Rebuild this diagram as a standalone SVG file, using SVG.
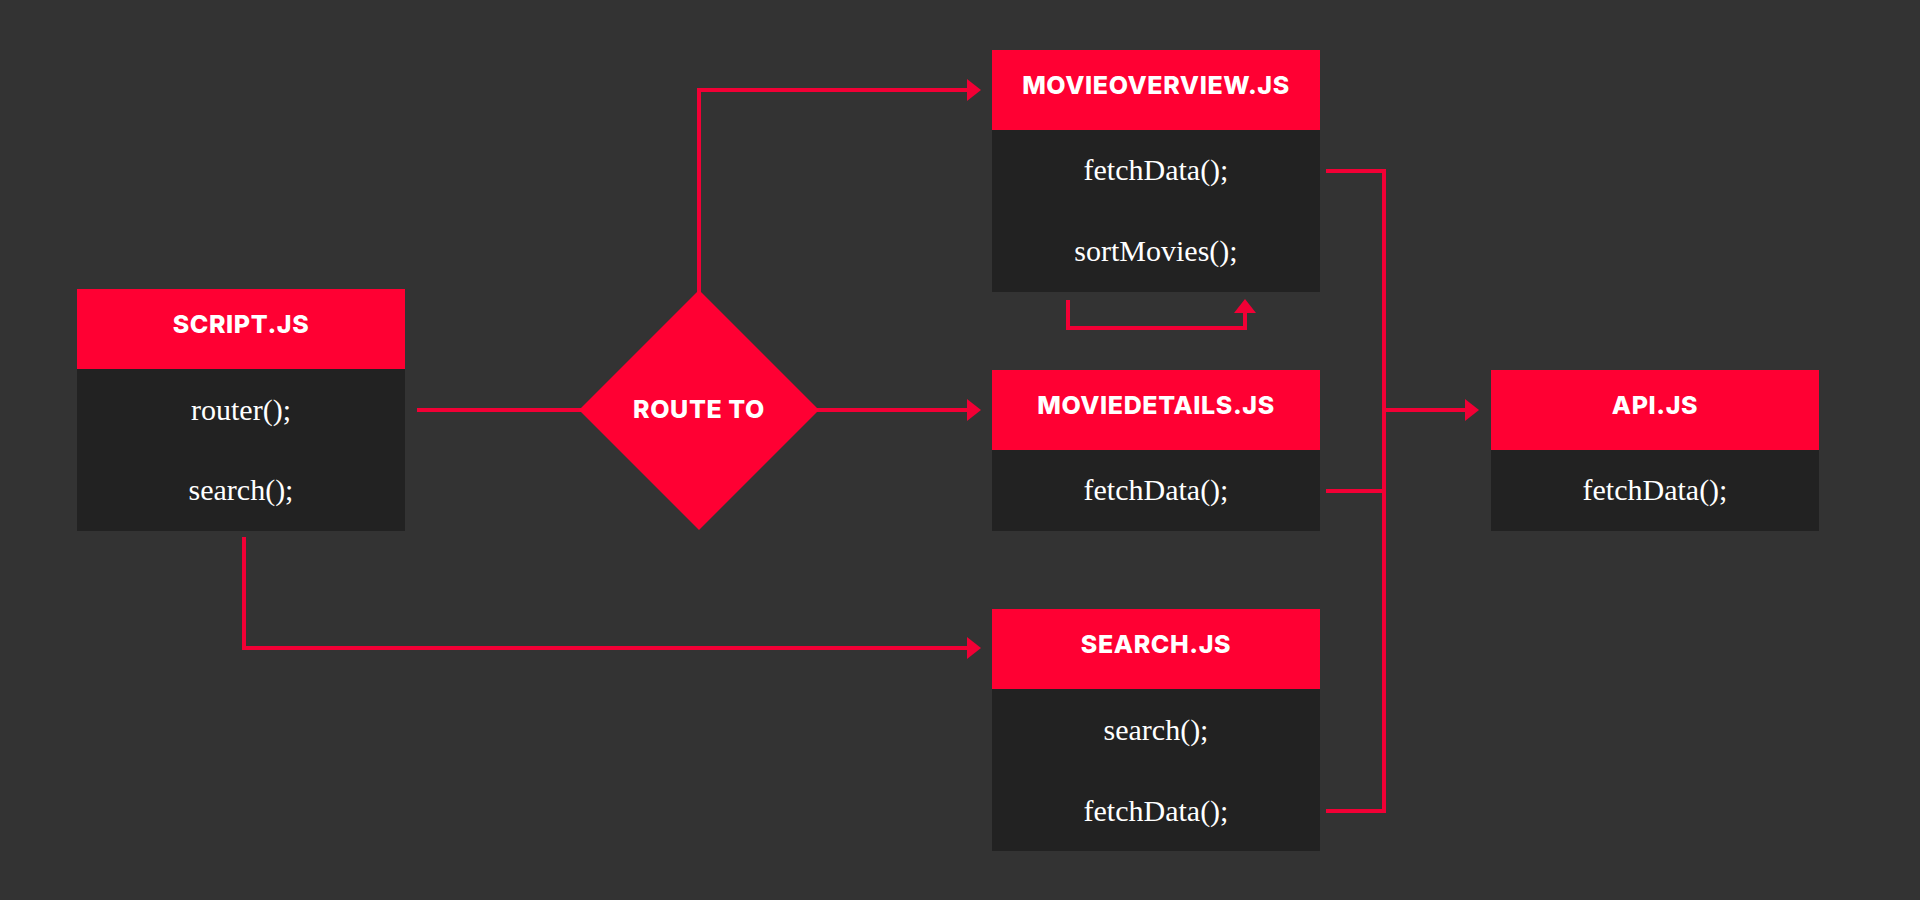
<svg xmlns="http://www.w3.org/2000/svg" width="1920" height="900" viewBox="0 0 1920 900">
  <style>
    .head { fill: #FF0033; }
    .body { fill: #222222; }
    .title { font-family: Inter, "Open Sans", "DejaVu Sans", sans-serif; font-weight: 800; font-size: 25px; letter-spacing: 0.6px; fill: #FFFFFF; text-anchor: middle; }
    .fn { font-family: "Liberation Serif", "DejaVu Serif", serif; font-size: 30px; fill: #FFFFFF; text-anchor: middle; }
    .wire { fill: none; stroke: #F20035; stroke-width: 4; stroke-linejoin: miter; stroke-linecap: butt; }
  </style>
  <defs>
    <marker id="arrow" viewBox="0 0 14 22" markerWidth="14" markerHeight="22" refX="8" refY="11" orient="auto" markerUnits="userSpaceOnUse">
      <path d="M0,0 L14,11 L0,22 Z" fill="#F20035"/>
    </marker>
  </defs>

  <rect width="1920" height="900" fill="#333333"/>

  <!-- connectors -->
  <g id="connectors">
    <!-- script.js router() into decision -->
    <path class="wire" d="M417,410 H585"/>
    <!-- decision to movieoverview -->
    <path class="wire" d="M699,292 V90 H975" marker-end="url(#arrow)"/>
    <!-- decision to moviedetails -->
    <path class="wire" d="M815,410 H975" marker-end="url(#arrow)"/>
    <!-- script.js search() to search.js -->
    <path class="wire" d="M244,537 V648 H975" marker-end="url(#arrow)"/>
    <!-- fetchData() loop back into sortMovies() -->
    <path class="wire" d="M1068,300 V328 H1245 V305" marker-end="url(#arrow)"/>
    <!-- fetchData() calls gathered on a bus to api.js -->
    <path class="wire" d="M1326,171 H1384 V811 H1326"/>
    <path class="wire" d="M1326,491 H1384"/>
    <path class="wire" d="M1384,410 H1473" marker-end="url(#arrow)"/>
  </g>

  <!-- script.js -->
  <g id="script-js">
    <rect class="head" x="77" y="289" width="328" height="80"/>
    <rect class="body" x="77" y="369" width="328" height="162"/>
    <text class="title" x="241" y="333">SCRIPT.JS</text>
    <text class="fn" x="241" y="420">router();</text>
    <text class="fn" x="241" y="500">search();</text>
  </g>

  <!-- decision -->
  <g id="route-to">
    <polygon class="head" points="699,290 819,410 699,530 579,410"/>
    <text class="title" x="699" y="418">ROUTE TO</text>
  </g>

  <!-- movieoverview.js -->
  <g id="movieoverview-js">
    <rect class="head" x="992" y="50" width="328" height="80"/>
    <rect class="body" x="992" y="130" width="328" height="162"/>
    <text class="title" x="1156" y="94">MOVIEOVERVIEW.JS</text>
    <text class="fn" x="1156" y="180">fetchData();</text>
    <text class="fn" x="1156" y="261">sortMovies();</text>
  </g>

  <!-- moviedetails.js -->
  <g id="moviedetails-js">
    <rect class="head" x="992" y="370" width="328" height="80"/>
    <rect class="body" x="992" y="450" width="328" height="81"/>
    <text class="title" x="1156" y="414">MOVIEDETAILS.JS</text>
    <text class="fn" x="1156" y="500">fetchData();</text>
  </g>

  <!-- search.js -->
  <g id="search-js">
    <rect class="head" x="992" y="609" width="328" height="80"/>
    <rect class="body" x="992" y="689" width="328" height="162"/>
    <text class="title" x="1156" y="653">SEARCH.JS</text>
    <text class="fn" x="1156" y="740">search();</text>
    <text class="fn" x="1156" y="821">fetchData();</text>
  </g>

  <!-- api.js -->
  <g id="api-js">
    <rect class="head" x="1491" y="370" width="328" height="80"/>
    <rect class="body" x="1491" y="450" width="328" height="81"/>
    <text class="title" x="1655" y="414">API.JS</text>
    <text class="fn" x="1655" y="500">fetchData();</text>
  </g>
</svg>
